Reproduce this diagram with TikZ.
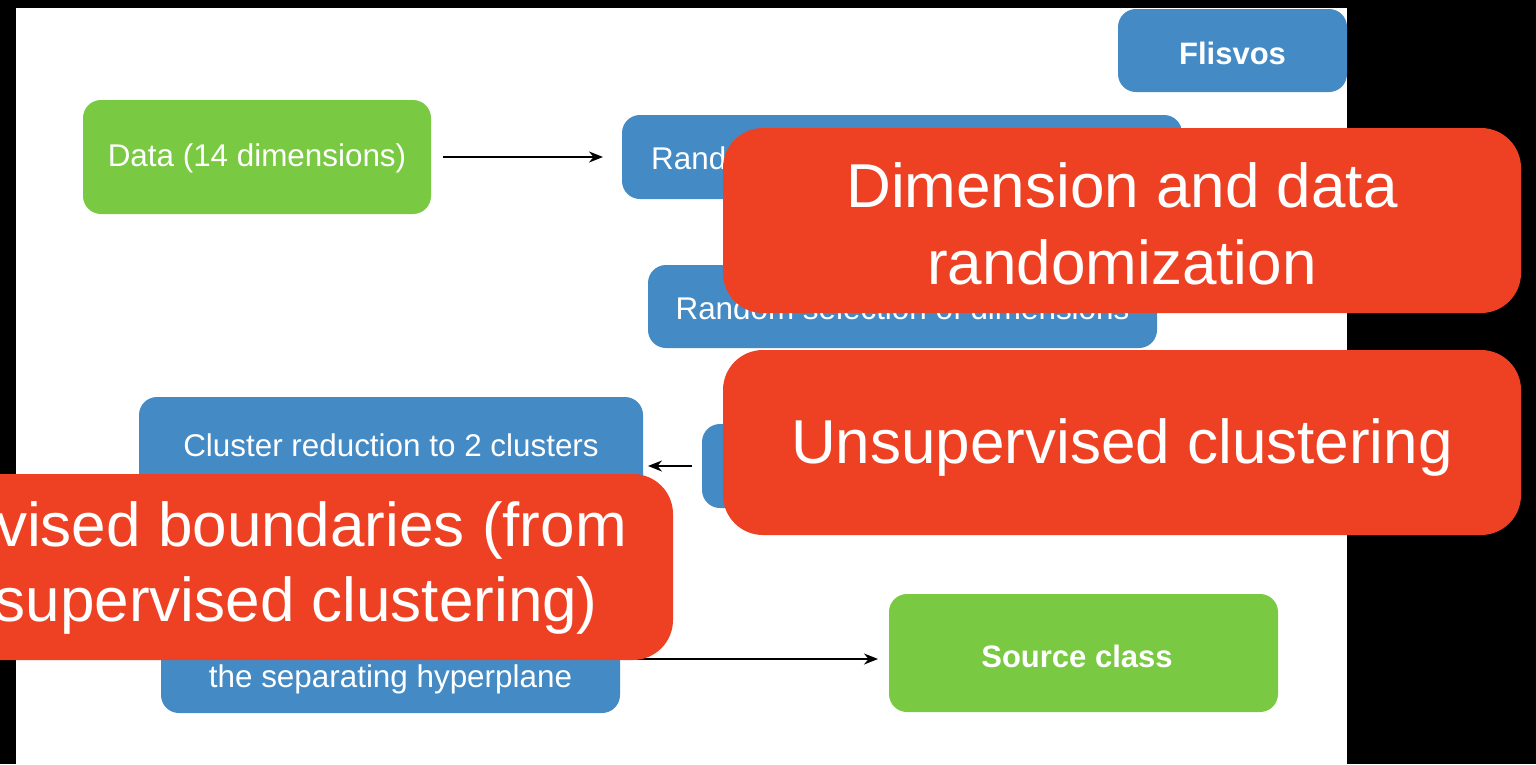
\documentclass[tikz,border=0pt]{standalone}
\usepackage{fontspec}
\setmainfont{Liberation Sans}
\usetikzlibrary{arrows.meta}
\definecolor{kblue}{RGB}{68,139,198}
\definecolor{kgreen}{RGB}{122,201,67}
\definecolor{kred}{RGB}{238,65,35}
\begin{document}
\begin{tikzpicture}[x=1pt,y=-1pt,
  box/.style={rounded corners=18pt, inner sep=0pt, outer sep=0pt},
  bluebox/.style={box, fill=kblue},
  greenbox/.style={box, fill=kgreen},
  redbox/.style={rounded corners=40pt, inner sep=0pt, outer sep=0pt, fill=kred},
  small/.style={text=white, inner sep=0pt, font=\fontsize{31.4}{37}\selectfont},
  smallbold/.style={text=white, inner sep=0pt, font=\fontsize{31}{37}\selectfont\bfseries},
  big/.style={text=white, inner sep=0pt, align=center, font=\fontsize{62}{77}\selectfont},
  arr/.style={-{Stealth[length=14pt,width=11pt]}, line width=2pt}]
\useasboundingbox (0,0) rectangle (1536,764);
\clip (0,0) rectangle (1536,764);
\fill[black] (0,0) rectangle (1536,764);
\fill[white] (16,8) rectangle (1347,764);

% blue and green boxes
\node[bluebox, minimum width=229pt, minimum height=83pt] (flis) at (1232.5,50.5) {};
\node[smallbold] (flist) at (1232.5,53) {Flisvos};
\node[greenbox, minimum width=348pt, minimum height=114pt] (data) at (257,157) {};
\node[small] (datat) at (257,158) {Data (14 dimensions)};
\node[bluebox, minimum width=560pt, minimum height=84pt] (rand1) at (902,157) {};
\node[small, anchor=west] (rand1t) at (651,158) {Rand};
\node[bluebox, minimum width=509pt, minimum height=83pt] (rand2) at (902.5,306.5) {};
\node[small] (rand2t) at (902.5,308) {Random selection of dimensions};
\node[bluebox, minimum width=504pt, minimum height=142pt] (clus) at (391,468) {};
\node[small] (clust) at (391,445) {Cluster reduction to 2 clusters};
\node[bluebox, minimum width=198pt, minimum height=84pt] (smallb) at (801,466) {};
\node[bluebox, minimum width=459pt, minimum height=108pt] (hyper) at (390.5,659) {};
\node[small] (hypert) at (390.5,679) {the separating hyperplane};
\node[greenbox, minimum width=389pt, minimum height=118pt] (source) at (1083.5,653) {};
\node[smallbold] (sourcet) at (1077,656) {Source class};

% connectors
\draw[arr, shorten <=12pt, shorten >=19pt] (data.east) -- (rand1.west);
\draw[arr, shorten <=10pt, shorten >=5pt] (smallb.west) -- (smallb.west -| clus.east);
\draw[arr, shorten >=11pt] (hyper.east) -- (hyper.east -| source.west);

% red overlays
\node[redbox, minimum width=798pt, minimum height=185pt] (red1) at (1122,220.5) {};
\node[big] (red1t) at (1122,224) {Dimension and data\\randomization};
\node[redbox, minimum width=798pt, minimum height=185pt] (red2) at (1122,442.5) {};
\node[big] (red2t) at (1122,447) {Unsupervised clustering};
\node[redbox, minimum width=873pt, minimum height=186pt] (red3) at (236.5,567) {};
\node[big, anchor=east] (red3a) at (627,530) {vised boundaries (from};
\node[big, anchor=east] (red3b) at (598,605) {supervised clustering)};
\end{tikzpicture}
\end{document}
